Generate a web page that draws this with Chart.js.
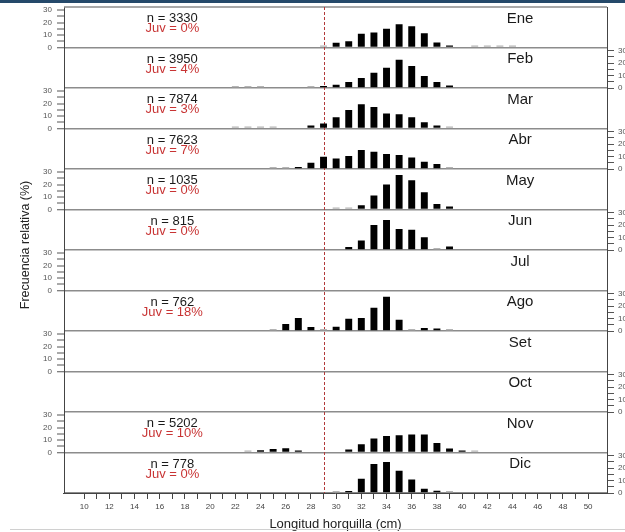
<!DOCTYPE html>
<html><head><meta charset="utf-8">
<script src="https://cdn.jsdelivr.net/npm/chart.js@4.4.1/dist/chart.umd.min.js"></script>
<style>
html,body{margin:0;padding:0;background:#fff;width:625px;height:532px;overflow:hidden;position:relative}
canvas{position:absolute;left:0;top:0}
#strip{position:absolute;left:0;top:0;width:625px;height:3px;background:#25496a}
#foot{position:absolute;left:10px;top:529px;width:615px;height:1px;background:#d0d0d0}
</style></head><body>
<canvas id="c" width="625" height="532"></canvas>
<div id="strip"></div><div id="foot"></div>
<script>
// ---- data ----
const months = ['Ene','Feb','Mar','Abr','May','Jun','Jul','Ago','Set','Oct','Nov','Dic'];
const nValues = [3330, 3950, 7874, 7623, 1035, 815, null, 762, null, null, 5202, 778];
const juvValues = [0, 4, 3, 7, 0, 0, null, 18, null, null, 10, 0];
const bins = [22,23,24,25,26,27,28,29,30,31,32,33,34,35,36,37,38,39,40,41,42,43,44];
const ene = [0,0,0,0,0,0,0,0.6,3.8,5.1,11,12,15,18.6,17,11.5,4,1.3,0,0.5,0.5,0.5,0.5];
const feb = [0.6,0.6,0.6,0,0,0,0.6,1.5,2.7,4.8,8,12.3,16.2,22.7,17.6,9.6,4.8,2.1,0,0,0,0,0];
const mar = [0.6,0.6,0.6,0.6,0,0,2.4,4,9,14.9,19.5,17.3,12,11.5,9,5.1,2.4,0.7,0,0,0,0,0];
const abr = [0,0,0,0.6,0.7,1.5,5.1,9.9,8.5,10.4,15.2,13.8,12,11.2,9.3,5.9,4,0.8,0,0,0,0,0];
const may = [0,0,0,0,0,0,0,0,0.6,0.8,3.5,11.2,20,27.7,23.4,13.8,4.5,2.4,0,0,0,0,0];
const jun = [0,0,0,0,0,0,0,0,0,2.4,7.7,20,24,16.8,16.3,10.2,0.9,2.9,0,0,0,0,0];
const jul = [0,0,0,0,0,0,0,0,0,0,0,0,0,0,0,0,0,0,0,0,0,0,0];
const ago = [0,0,0,0.8,5.6,10.4,3.2,0.8,3.5,9.9,10.4,18.6,27.5,9,0.8,2.4,2.1,0.6,0,0,0,0,0];
const set = [0,0,0,0,0,0,0,0,0,0,0,0,0,0,0,0,0,0,0,0,0,0,0];
const oct = [0,0,0,0,0,0,0,0,0,0,0,0,0,0,0,0,0,0,0,0,0,0,0];
const nov = [0,0.9,1.8,2.9,3.5,1.2,0,0,0,2.4,6.7,11.2,13.3,13.8,14.4,14.4,7.7,3.2,1.1,0.8,0,0,0];
const dic = [0,0,0,0,0,0,0,0,0.9,1.6,11.5,23.2,24.8,17.9,10.9,3.5,1.8,0.8,0,0,0,0,0];
const series = [ene,feb,mar,abr,may,jun,jul,ago,set,oct,nov,dic];
const xTickValues = Array.from({length:41},(_,k)=>10+k);   // 10..50
const yTickValues = [0,5,10,15,20,25,30];
const juvLimit = 29;
const X_MIN = 8.4, X_MAX = 51.5, Y_MAX = 32.5;

// ---- chart ----
Chart.defaults.font.family = "'Liberation Sans', Arial, sans-serif";
Chart.defaults.color = '#555';
const tickFont = {size:8, family:"'Liberation Sans', Arial, sans-serif"};
const tickColor = () => '#555';

const scales = {
  x: {
    type:'linear', position:'bottom', min:X_MIN, max:X_MAX, offset:false,
    afterBuildTicks: s => { s.ticks = xTickValues.map(v=>({value:v})); },
    afterFit: s => { s.height = 39; s.paddingLeft = 0; s.paddingRight = 0; },
    ticks: {autoSkip:false, maxRotation:0, padding:3, font:tickFont, color:'#444',
            callback: v => (v % 2 === 0 ? String(v) : '')},
    grid: {drawOnChartArea:false, drawTicks:true, tickLength:6, color:'#444', tickColor:'#444', offset:false},
    border: {display:true, color:'#444', width:1},
    title: {display:true, text:'Longitud horquilla (cm)', color:'#222',
            font:{size:13}, padding:{top:0, bottom:0}}
  }
};
months.forEach((m,i)=>{
  const left = i % 2 === 0;
  scales['y'+i] = {
    type:'linear', axis:'y', position:'left', stack:'L', stackWeight:1, weight:12-i,
    min:0, max:Y_MAX, offset:false,
    afterBuildTicks: s => { s.ticks = yTickValues.map(v=>({value:v})); },
    afterFit: s => { s.width = 44; s.paddingTop = 0; s.paddingBottom = 0; },
    ticks: {display:left, autoSkip:false, padding:5, font:tickFont, color:tickColor,
            callback: v => (v % 10 === 0 ? String(v) : '')},
    grid: {drawOnChartArea:true, drawTicks:left, tickLength:7, tickColor:'#555', tickWidth:1,
           color: c => (c.tick && c.tick.value === 0 ? '#8c8c8c' : 'rgba(0,0,0,0)'),
           lineWidth: c => (c.tick && c.tick.value === 0 ? 1.5 : 0)},
    border: {display:true, color:'#444', width:1}
  };
  scales['r'+i] = {
    type:'linear', axis:'y', position:'right', stack:'R', stackWeight:1, weight:i+1,
    min:0, max:Y_MAX, offset:false,
    afterBuildTicks: s => { s.ticks = yTickValues.map(v=>({value:v})); },
    afterFit: s => { s.width = 18; s.paddingTop = 0; s.paddingBottom = 0; },
    ticks: {display:!left, autoSkip:false, padding:4, font:tickFont, color:tickColor,
            callback: v => (v % 10 === 0 ? String(v) : '')},
    grid: {drawOnChartArea:false, drawTicks:!left, tickLength:7, tickColor:'#555', tickWidth:1, color:'#555'},
    border: {display:true, color:'#444', width:1}
  };
});

const datasets = series.map((vals,i)=>({
  type:'bar', label:months[i], xAxisID:'x', yAxisID:'y'+i,
  data: bins.map((b,j)=>({x:b, y:vals[j]})).filter(p => p.y > 0),
  backgroundColor: c => (c.raw && c.raw.y < 1 ? '#b4b4b4' : '#000000'),
  borderWidth:0, grouped:false, barPercentage:0.55, categoryPercentage:1.0, minBarLength:2
}));

const annotate = {
  id:'annotate',
  beforeDatasetsDraw(chart){
    const {ctx, chartArea:a} = chart;
    const x = chart.scales.x;
    ctx.save();
    ctx.strokeStyle = '#8c8c8c'; ctx.lineWidth = 1.5;
    ctx.beginPath(); ctx.moveTo(a.left, a.top); ctx.lineTo(a.right, a.top); ctx.stroke();
    const px = Math.round(x.getPixelForValue(juvLimit)) + 0.5;
    ctx.strokeStyle = '#b23a3a'; ctx.lineWidth = 1; ctx.setLineDash([3,2]);
    ctx.beginPath(); ctx.moveTo(px, a.top); ctx.lineTo(px, a.bottom); ctx.stroke();
    ctx.restore();
  },
  afterDraw(chart){
    const {ctx, chartArea:a} = chart;
    const x = chart.scales.x;
    ctx.save();
    ctx.textAlign = 'center'; ctx.textBaseline = 'middle';
    months.forEach((m,i)=>{
      const ys = chart.scales['y'+i];
      ctx.fillStyle = '#1a1a1a';
      ctx.font = "15px 'Liberation Sans', Arial, sans-serif";
      ctx.fillText(m, x.getPixelForValue(44.6), ys.getPixelForValue(23));
      if (nValues[i] !== null) {
        ctx.font = "13px 'Liberation Sans', Arial, sans-serif";
        ctx.fillStyle = '#1a1a1a';
        ctx.fillText('n = ' + nValues[i], x.getPixelForValue(17), ys.getPixelForValue(23.2));
        ctx.fillStyle = '#c83434';
        ctx.fillText('Juv = ' + juvValues[i] + '%', x.getPixelForValue(17), ys.getPixelForValue(15));
      }
    });
    ctx.translate(26, (a.top + a.bottom) / 2 - 5);
    ctx.rotate(-Math.PI/2);
    ctx.fillStyle = '#222';
    ctx.font = "12.5px 'Liberation Sans', Arial, sans-serif";
    ctx.fillText('Frecuencia relativa (%)', 0, 0);
    ctx.fillStyle = '#555';
    ctx.restore();
  }
};

new Chart(document.getElementById('c'), {
  type:'bar',
  data:{datasets},
  options:{
    responsive:false, animation:false,
    layout:{padding:{left:20, top:7, right:0, bottom:0}},
    plugins:{legend:{display:false}, tooltip:{enabled:false}},
    scales
  },
  plugins:[annotate]
});
</script>
</body></html>
